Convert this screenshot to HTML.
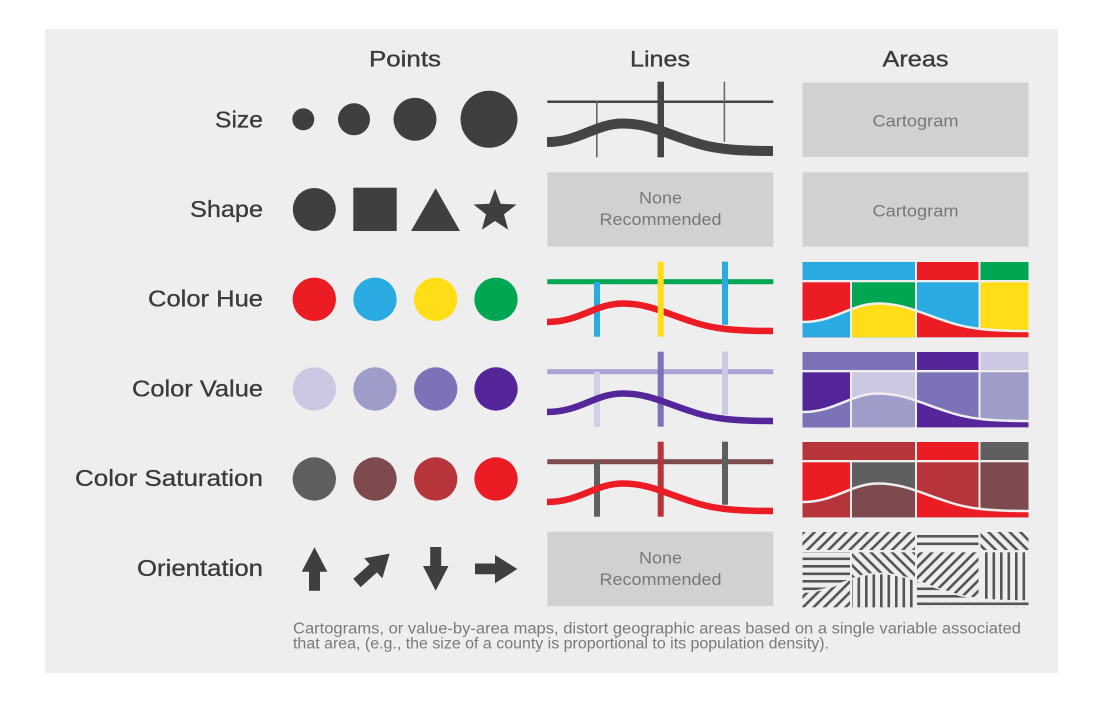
<!DOCTYPE html>
<html><head><meta charset="utf-8"><style>
html,body{margin:0;padding:0;background:#fff;}
svg{display:block;}
text{font-family:"Liberation Sans",Arial,sans-serif;}
</style></head><body>
<svg width="1110" height="705" viewBox="0 0 1110 705" xmlns="http://www.w3.org/2000/svg">
<defs>
  <pattern id="hH" patternUnits="userSpaceOnUse" width="10" height="7.5"><rect x="0" y="2.5" width="10" height="2.6" fill="#555"/></pattern>
  <pattern id="hV" patternUnits="userSpaceOnUse" width="7.5" height="10"><rect x="2.5" y="0" width="2.6" height="10" fill="#555"/></pattern>
  <pattern id="hD1" patternUnits="userSpaceOnUse" width="10" height="7.5" patternTransform="rotate(-45)"><rect x="0" y="2.5" width="10" height="2.6" fill="#555"/></pattern>
  <pattern id="hD2" patternUnits="userSpaceOnUse" width="10" height="7.5" patternTransform="rotate(45)"><rect x="0" y="2.5" width="10" height="2.6" fill="#555"/></pattern>
  <clipPath id="below" clipPathUnits="userSpaceOnUse">
    <path d="M790,322 L802.5,322 C835.5,322 850.5,303.5 878.5,303.5 C903.5,303.5 920.5,313 945.5,321 C967.5,329 990.5,331 1028.5,331 L1040,331 L1040,350 L790,350 Z"/>
  </clipPath>
</defs>

<rect x="45" y="29" width="1013" height="644" fill="#eeeeee"/>

<!-- headers -->
<g fill="#3a3a3a" font-size="22.5" stroke="#3a3a3a" stroke-width="0.35">
  <text x="405" y="66.5" text-anchor="middle" textLength="72" lengthAdjust="spacingAndGlyphs">Points</text>
  <text x="660" y="66.5" text-anchor="middle" textLength="60" lengthAdjust="spacingAndGlyphs">Lines</text>
  <text x="915.5" y="66.5" text-anchor="middle" textLength="66" lengthAdjust="spacingAndGlyphs">Areas</text>
</g>

<!-- row labels -->
<g fill="#3a3a3a" font-size="23" stroke="#3a3a3a" stroke-width="0.3" text-anchor="end">
  <text x="263" y="127.3" textLength="48" lengthAdjust="spacingAndGlyphs">Size</text>
  <text x="263" y="217" textLength="73" lengthAdjust="spacingAndGlyphs">Shape</text>
  <text x="263" y="306.7" textLength="115" lengthAdjust="spacingAndGlyphs">Color Hue</text>
  <text x="263" y="396.4" textLength="131" lengthAdjust="spacingAndGlyphs">Color Value</text>
  <text x="263" y="486.1" textLength="188" lengthAdjust="spacingAndGlyphs">Color Saturation</text>
  <text x="263" y="575.8" textLength="126" lengthAdjust="spacingAndGlyphs">Orientation</text>
</g>

<!-- Points: size -->
<g fill="#3f3f3f">
  <circle cx="303.3" cy="119.3" r="11"/>
  <circle cx="354" cy="119.3" r="16"/>
  <circle cx="415" cy="119.3" r="21.5"/>
  <circle cx="489" cy="119.3" r="28.5"/>
  <!-- shape -->
  <circle cx="314.3" cy="209.5" r="21.5"/>
  <rect x="353.3" y="187.7" width="43.4" height="43.3"/>
  <polygon points="435.7,188.3 460,231 411,231"/>
  <polygon points="495,189 500.6,203.8 516.4,204.55 504,214.4 508.2,229.7 495,221 481.8,229.7 486,214.4 473.6,204.55 489.4,203.8"/>
</g>

<!-- Points: colors -->
<g>
  <circle cx="314.3" cy="299.3" r="21.7" fill="#ec1c24"/>
  <circle cx="375" cy="299.3" r="21.7" fill="#29abe2"/>
  <circle cx="435.7" cy="299.3" r="21.7" fill="#ffde17"/>
  <circle cx="496" cy="299.3" r="21.7" fill="#00a651"/>
  <circle cx="314.3" cy="389" r="21.7" fill="#cbc8e4"/>
  <circle cx="375" cy="389" r="21.7" fill="#a09cc9"/>
  <circle cx="435.7" cy="389" r="21.7" fill="#7b72b8"/>
  <circle cx="496" cy="389" r="21.7" fill="#55269a"/>
  <circle cx="314.3" cy="479" r="21.7" fill="#5f5f5f"/>
  <circle cx="375" cy="479" r="21.7" fill="#7d4a4d"/>
  <circle cx="435.7" cy="479" r="21.7" fill="#b5353b"/>
  <circle cx="496" cy="479" r="21.7" fill="#ec1c24"/>
</g>

<!-- Points: orientation arrows -->
<g fill="#3f3f3f">
  <polygon points="314.5,547.3 327.3,571.7 320,571.7 320,590.7 309,590.7 309,571.7 301.7,571.7"/>
  <polygon points="435.7,590.7 448.5,566 441.2,566 441.2,547 430.2,547 430.2,566 423,566"/>
  <polygon points="517.3,569 495,583.3 495,574.3 475,574.3 475,563.5 495,563.5 495,555"/>
  <g transform="translate(373.3,568.3) rotate(-42)">
    <polygon points="22,0 0,-13.5 0,-5.5 -22,-5.5 -22,5.5 0,5.5 0,13.5"/>
  </g>
</g>

<!-- Lines: size row -->
<g>
  <rect x="547.3" y="100.5" width="226" height="2.5" fill="#444"/>
  <rect x="596" y="101" width="1.6" height="56.3" fill="#666"/>
  <rect x="723.6" y="81.7" width="1.6" height="60" fill="#666"/>
  <path d="M547,142 C580,142 595,123.5 623,123.5 C648,123.5 665,133 690,141 C712,149 735,151 773,151" fill="none" stroke="#444" stroke-width="10"/>
  <rect x="657.5" y="81.7" width="6.5" height="75.6" fill="#444"/>
</g>

<!-- Lines: hue row -->
<g>
  <rect x="547.3" y="279.2" width="226" height="5" fill="#00a651"/>
  <rect x="594" y="281.7" width="6" height="55" fill="#29abe2"/>
  <rect x="722" y="261.7" width="6" height="63" fill="#29abe2"/>
  <path d="M547,322 C580,322 595,303.5 623,303.5 C648,303.5 665,313 690,321 C712,329 735,331 773,331" fill="none" stroke="#ec1c24" stroke-width="6.5"/>
  <rect x="657.7" y="261.7" width="6" height="75" fill="#ffde17"/>
</g>

<!-- Lines: value row -->
<g>
  <rect x="547.3" y="369.2" width="226" height="5" fill="#a9a4d4"/>
  <rect x="594" y="371.7" width="6" height="55" fill="#d2cfe8"/>
  <rect x="722" y="351.7" width="6" height="63" fill="#cbc8e4"/>
  <rect x="657.7" y="351.7" width="6" height="75" fill="#7b72b8"/>
  <path d="M547,412 C580,412 595,393.5 623,393.5 C648,393.5 665,403 690,411 C712,419 735,421 773,421" fill="none" stroke="#55269a" stroke-width="6.5"/>
</g>

<!-- Lines: saturation row -->
<g>
  <rect x="547.3" y="459.2" width="226" height="5" fill="#7d4a4d"/>
  <rect x="594" y="461.7" width="6" height="55" fill="#5f5f5f"/>
  <rect x="722" y="441.7" width="6" height="63" fill="#5f5f5f"/>
  <rect x="657.7" y="441.7" width="6" height="75" fill="#b5353b"/>
  <path d="M547,502 C580,502 595,483.5 623,483.5 C648,483.5 665,493 690,501 C712,509 735,511 773,511" fill="none" stroke="#ec1c24" stroke-width="6.5"/>
</g>

<!-- None Recommended boxes -->
<g>
  <rect x="547.3" y="172.3" width="226" height="74.4" fill="#d1d1d1"/>
  <rect x="547.3" y="531.7" width="226" height="74.4" fill="#d1d1d1"/>
  <g fill="#787878" font-size="16.5" text-anchor="middle">
    <text x="660.5" y="203.3" textLength="43" lengthAdjust="spacingAndGlyphs">None</text>
    <text x="660.5" y="225" textLength="122" lengthAdjust="spacingAndGlyphs">Recommended</text>
    <text x="660.5" y="563.3" textLength="43" lengthAdjust="spacingAndGlyphs">None</text>
    <text x="660.5" y="585" textLength="122" lengthAdjust="spacingAndGlyphs">Recommended</text>
  </g>
</g>

<!-- Cartogram boxes -->
<g>
  <rect x="802.5" y="82.5" width="226" height="74.5" fill="#d1d1d1"/>
  <rect x="802.5" y="172.3" width="226" height="74.4" fill="#d1d1d1"/>
  <g fill="#787878" font-size="16.5" text-anchor="middle">
    <text x="915.5" y="126.5" textLength="86" lengthAdjust="spacingAndGlyphs">Cartogram</text>
    <text x="915.5" y="216.3" textLength="86" lengthAdjust="spacingAndGlyphs">Cartogram</text>
  </g>
</g>

<!-- Areas: hue row -->
<g>
  <rect x="802.5" y="262" width="112.5" height="18" fill="#29abe2"/>
  <rect x="917" y="262" width="61.5" height="18" fill="#ec1c24"/>
  <rect x="980.5" y="262" width="48" height="18" fill="#00a651"/>
  <rect x="802.5" y="282.3" width="47.5" height="55" fill="#ec1c24"/>
  <rect x="852" y="282.3" width="63" height="55" fill="#00a651"/>
  <rect x="917" y="282.3" width="61.5" height="55" fill="#29abe2"/>
  <rect x="980.5" y="282.3" width="48" height="55" fill="#ffde17"/>
  <g clip-path="url(#below)">
    <rect x="802.5" y="282.3" width="47.5" height="55" fill="#29abe2"/>
    <rect x="852" y="282.3" width="63" height="55" fill="#ffde17"/>
    <rect x="917" y="282.3" width="111.5" height="55" fill="#ec1c24"/>
  </g>
  <path d="M802.5,322 C835.5,322 850.5,303.5 878.5,303.5 C903.5,303.5 920.5,313 945.5,321 C967.5,329 990.5,331 1028.5,331" fill="none" stroke="#eeeeee" stroke-width="2.5"/>
</g>

<!-- Areas: value row -->
<g transform="translate(0,90)">
  <rect x="802.5" y="262" width="112.5" height="18" fill="#7b72b8"/>
  <rect x="917" y="262" width="61.5" height="18" fill="#55269a"/>
  <rect x="980.5" y="262" width="48" height="18" fill="#cbc8e4"/>
  <rect x="802.5" y="282.3" width="47.5" height="55" fill="#55269a"/>
  <rect x="852" y="282.3" width="63" height="55" fill="#cbc8e4"/>
  <rect x="917" y="282.3" width="61.5" height="55" fill="#7b72b8"/>
  <rect x="980.5" y="282.3" width="48" height="55" fill="#a09cc9"/>
  <g clip-path="url(#below)">
    <rect x="802.5" y="282.3" width="47.5" height="55" fill="#7b72b8"/>
    <rect x="852" y="282.3" width="63" height="55" fill="#a09cc9"/>
    <rect x="917" y="282.3" width="111.5" height="55" fill="#55269a"/>
  </g>
  <path d="M802.5,322 C835.5,322 850.5,303.5 878.5,303.5 C903.5,303.5 920.5,313 945.5,321 C967.5,329 990.5,331 1028.5,331" fill="none" stroke="#eeeeee" stroke-width="2.5"/>
</g>

<!-- Areas: saturation row -->
<g transform="translate(0,180)">
  <rect x="802.5" y="262" width="112.5" height="18" fill="#b5353b"/>
  <rect x="917" y="262" width="61.5" height="18" fill="#ec1c24"/>
  <rect x="980.5" y="262" width="48" height="18" fill="#5f5f5f"/>
  <rect x="802.5" y="282.3" width="47.5" height="55" fill="#ec1c24"/>
  <rect x="852" y="282.3" width="63" height="55" fill="#5f5f5f"/>
  <rect x="917" y="282.3" width="61.5" height="55" fill="#b5353b"/>
  <rect x="980.5" y="282.3" width="48" height="55" fill="#7d4a4d"/>
  <g clip-path="url(#below)">
    <rect x="802.5" y="282.3" width="47.5" height="55" fill="#b5353b"/>
    <rect x="852" y="282.3" width="63" height="55" fill="#7d4a4d"/>
    <rect x="917" y="282.3" width="111.5" height="55" fill="#ec1c24"/>
  </g>
  <path d="M802.5,322 C835.5,322 850.5,303.5 878.5,303.5 C903.5,303.5 920.5,313 945.5,321 C967.5,329 990.5,331 1028.5,331" fill="none" stroke="#eeeeee" stroke-width="2.5"/>
</g>

<!-- Areas: orientation (hatching) -->
<g transform="translate(0,270)">
  <rect x="802.5" y="262" width="112.5" height="18" fill="url(#hD1)"/>
  <rect x="917" y="262" width="61.5" height="18" fill="url(#hH)"/>
  <rect x="980.5" y="262" width="48" height="18" fill="url(#hD2)"/>
  <rect x="802.5" y="282.3" width="47.5" height="55" fill="url(#hH)"/>
  <rect x="852" y="282.3" width="63" height="55" fill="url(#hD2)"/>
  <rect x="917" y="282.3" width="61.5" height="55" fill="url(#hD1)"/>
  <rect x="980.5" y="282.3" width="48" height="55" fill="url(#hV)"/>
  <g clip-path="url(#below)">
    <rect x="802.5" y="282.3" width="47.5" height="55" fill="#eeeeee"/>
    <rect x="852" y="282.3" width="63" height="55" fill="#eeeeee"/>
    <rect x="917" y="282.3" width="111.5" height="55" fill="#eeeeee"/>
    <rect x="802.5" y="282.3" width="47.5" height="55" fill="url(#hD1)"/>
    <rect x="852" y="282.3" width="63" height="55" fill="url(#hV)"/>
    <rect x="917" y="282.3" width="111.5" height="55" fill="url(#hH)"/>
  </g>
  <path d="M802.5,322 C835.5,322 850.5,303.5 878.5,303.5 C903.5,303.5 920.5,313 945.5,321 C967.5,329 990.5,331 1028.5,331" fill="none" stroke="#eeeeee" stroke-width="1.5"/>
</g>

<!-- footer -->
<g fill="#7a7a7a" font-size="15.5">
  <text x="293" y="633.3" textLength="728" lengthAdjust="spacingAndGlyphs">Cartograms, or value-by-area maps, distort geographic areas based on a single variable associated</text>
  <text x="293" y="648.3" textLength="536" lengthAdjust="spacingAndGlyphs">that area, (e.g., the size of a county is proportional to its population density).</text>
</g>
</svg>
</body></html>
